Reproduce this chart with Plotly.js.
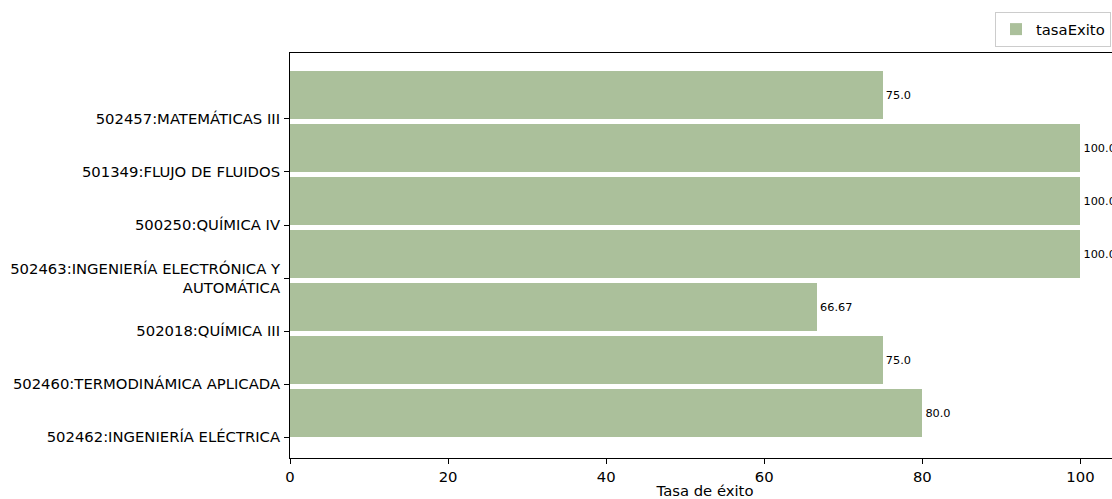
<!DOCTYPE html>
<html>
<head>
<meta charset="utf-8">
<script src="https://cdn.plot.ly/plotly-3.0.1.min.js"></script>
<style>
  html, body { margin: 0; padding: 0; overflow: hidden; background: #fff; }
  #chart { width: 1120px; height: 499px; }
</style>
</head>
<body>
<div id="chart"></div>
<script>
// Categories from bottom to top
const categories = [
  "502462:INGENIERÍA ELÉCTRICA",
  "502460:TERMODINÁMICA APLICADA",
  "502018:QUÍMICA III",
  "502463:INGENIERÍA ELECTRÓNICA Y<br>AUTOMÁTICA",
  "500250:QUÍMICA IV",
  "501349:FLUJO DE FLUIDOS",
  "502457:MATEMÁTICAS III"
];
const tasaExito = [80.0, 75.0, 66.67, 100.0, 100.0, 100.0, 75.0];
const seriesName = "tasaExito";
const xTickVals = [0, 20, 40, 60, 80, 100];
const xTitle = "Tasa de éxito";

const positions = categories.map((_, i) => i);
const labels = tasaExito.map(v => Number.isInteger(v) ? v.toFixed(1) : String(v));

const FS = 14.8;

const trace = {
  type: "bar",
  orientation: "h",
  name: seriesName,
  x: tasaExito,
  y: positions,
  width: 0.9,
  offset: 0,
  marker: { color: "#abc09b", line: { width: 0 } },
  text: labels,
  textposition: "outside",
  constraintext: "none",
  cliponaxis: false,
  textfont: { family: "DejaVu Sans", size: 11.3, color: "#000" },
  hoverinfo: "none"
};

const layout = {
  width: 1120,
  height: 499,
  margin: { l: 290, r: 0, t: 53, b: 41, pad: 0 },
  paper_bgcolor: "#fff",
  plot_bgcolor: "#fff",
  font: { family: "DejaVu Sans", size: FS, color: "#000" },
  showlegend: true,
  legend: {
    x: (995 - 290) / 830,
    y: (458 - 12) / 405,
    xanchor: "left",
    yanchor: "top",
    bgcolor: "#fff",
    bordercolor: "#cccccc",
    borderwidth: 1,
    font: { family: "DejaVu Sans", size: FS, color: "#000" }
  },
  bargap: 0,
  xaxis: {
    range: [0, 105],
    tickvals: xTickVals,
    ticktext: xTickVals.map(String),
    ticks: "outside",
    ticklen: 5,
    tickwidth: 1,
    tickcolor: "#000",
    showline: true,
    linecolor: "#000",
    linewidth: 1,
    mirror: true,
    showgrid: false,
    zeroline: false,
    tickfont: { family: "DejaVu Sans", size: FS, color: "#000" },
    title: { text: xTitle, font: { family: "DejaVu Sans", size: FS, color: "#000" }, standoff: 7 }
  },
  yaxis: {
    range: [-0.396, 7.245],
    tickvals: positions,
    ticktext: categories,
    ticks: "outside",
    ticklen: 5,
    tickwidth: 1,
    tickcolor: "#000",
    showline: true,
    linecolor: "#000",
    linewidth: 1,
    mirror: true,
    showgrid: false,
    zeroline: false,
    ticklabelstandoff: 1,
    tickfont: { family: "DejaVu Sans", size: FS, color: "#000" }
  }
};

Plotly.newPlot("chart", [trace], layout, { displayModeBar: false, staticPlot: true });
</script>
</body>
</html>
